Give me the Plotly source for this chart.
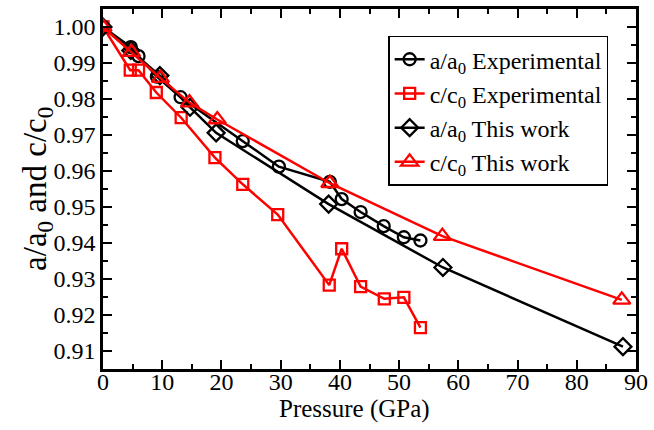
import plotly.graph_objects as go

# a/a0 Experimental
a_exp_p = [0, 4.7, 6.0, 9.1, 13.1, 23.6, 29.7, 38.3, 40.3, 43.5, 47.4, 50.8, 53.6]
a_exp_v = [1.000, 0.9944, 0.9919, 0.9862, 0.9805, 0.9683, 0.9612, 0.9570, 0.9522, 0.9486, 0.9447, 0.9416, 0.9407]

# c/c0 Experimental
c_exp_p = [0, 4.6, 6.0, 9.0, 13.2, 18.9, 23.6, 29.5, 38.2, 40.3, 43.5, 47.5, 50.8, 53.6]
c_exp_v = [1.000, 0.9880, 0.9880, 0.9818, 0.9748, 0.9637, 0.9563, 0.9479, 0.9283, 0.9384, 0.9279, 0.9245, 0.9249, 0.9165]

# a/a0 This work
a_th_p = [0, 4.7, 9.6, 14.7, 19.1, 38.1, 57.4, 87.8]
a_th_v = [1.000, 0.9935, 0.9865, 0.9777, 0.9706, 0.9508, 0.9332, 0.9112]

# c/c0 This work
c_th_p = [0, 4.8, 9.7, 14.6, 19.3, 38.3, 57.3, 87.6]
c_th_v = [1.000, 0.9930, 0.9858, 0.9790, 0.9743, 0.9566, 0.9419, 0.9242]

x_ticks = [0, 10, 20, 30, 40, 50, 60, 70, 80, 90]
y_ticks = [0.91, 0.92, 0.93, 0.94, 0.95, 0.96, 0.97, 0.98, 0.99, 1.00]

FONT = "Liberation Serif"

fig = go.Figure()

def add(px, pv, name, color, symbol, size):
    fig.add_trace(go.Scatter(
        x=px, y=pv, name=name, mode="lines+markers",
        line=dict(color=color, width=2.5),
        marker=dict(symbol=symbol, size=size, color=color,
                    line=dict(color=color, width=2.3)),
    ))

add(a_exp_p, a_exp_v, "a/a<sub>0</sub> Experimental", "black", "circle-open", 12)
add(c_exp_p, c_exp_v, "c/c<sub>0</sub> Experimental", "#ff0000", "square-open", 11)
add(a_th_p, a_th_v, "a/a<sub>0</sub> This work", "black", "diamond-open", 13)
add(c_th_p, c_th_v, "c/c<sub>0</sub> This work", "#ff0000", "triangle-up-open", 15)

fig.update_layout(
    width=654, height=430,
    margin=dict(l=103, r=13, t=6, b=61),
    paper_bgcolor="white", plot_bgcolor="white",
    font=dict(family=FONT, size=24, color="black"),
    showlegend=True,
    legend=dict(x=0.535, y=0.926, xanchor="left", yanchor="top",
                bordercolor="black", borderwidth=1.5, bgcolor="white",
                font=dict(family=FONT, size=24), tracegroupgap=0,
                itemwidth=30),
    annotations=[
        dict(text="Pressure (GPa)", xref="paper", yref="paper",
             x=0.472, y=-0.110, xanchor="center", yanchor="middle",
             showarrow=False, font=dict(family=FONT, size=25)),
        dict(text="a/a<sub>0</sub> and c/c<sub>0</sub>", xref="paper", yref="paper",
             x=-0.124, y=0.5, xanchor="center", yanchor="middle", textangle=-90,
             showarrow=False, font=dict(family=FONT, size=33)),
    ],
)

fig.update_xaxes(
    range=[0, 90], tickvals=x_ticks, ticktext=[str(v) for v in x_ticks],
    ticks="inside", ticklen=9, tickwidth=2, tickcolor="black",
    showline=True, linecolor="black", linewidth=2.5, mirror="allticks",
    showgrid=False, zeroline=False, ticklabelstandoff=-11,
    minor=dict(dtick=5, ticks="inside", ticklen=5, tickwidth=2, tickcolor="black", showgrid=False),
    tickfont=dict(family=FONT, size=24),
)
fig.update_yaxes(
    range=[0.905, 1.005], tickvals=y_ticks, ticktext=["%.2f" % v for v in y_ticks],
    ticks="inside", ticklen=9, tickwidth=2, tickcolor="black",
    showline=True, linecolor="black", linewidth=2.5, mirror="allticks",
    showgrid=False, zeroline=False,
    minor=dict(dtick=0.005, tick0=0.905, ticks="inside", ticklen=5, tickwidth=2, tickcolor="black", showgrid=False),
    tickfont=dict(family=FONT, size=24),
)

fig.write_html("out.html")
